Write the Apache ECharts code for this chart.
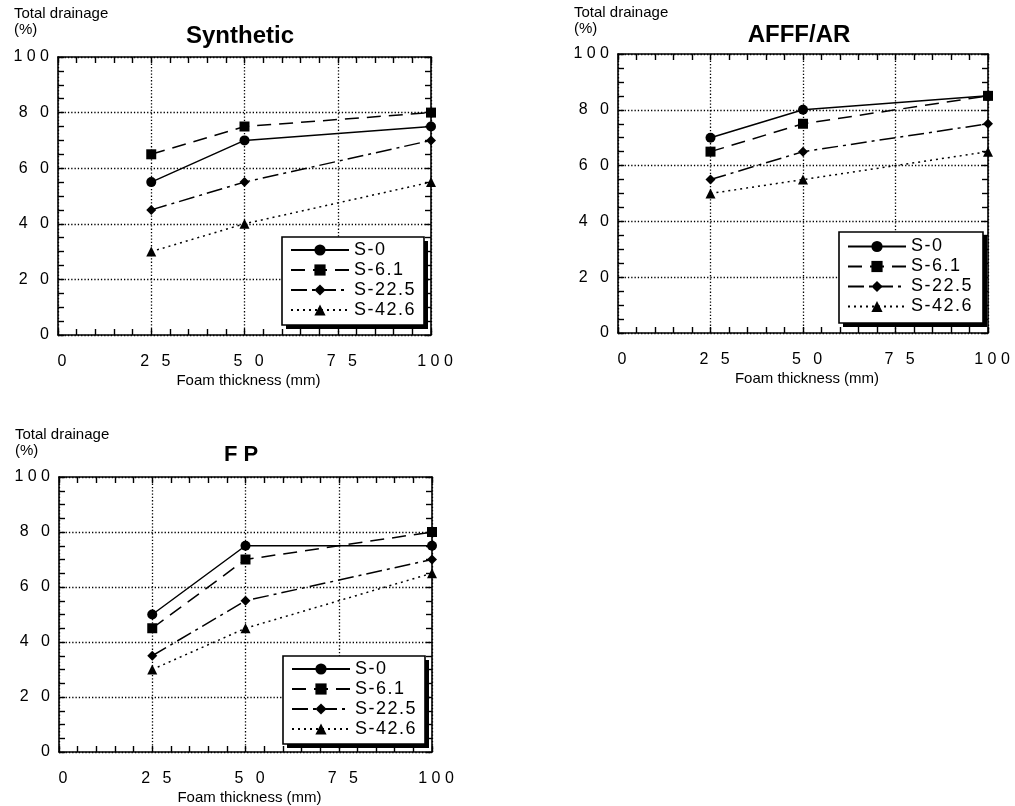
<!DOCTYPE html>
<html>
<head>
<meta charset="utf-8">
<script src="https://cdn.jsdelivr.net/npm/echarts@6/dist/echarts.min.js"></script>
<style>
  html, body { margin: 0; padding: 0; background: #fff; }
  #chart { width: 1015px; height: 806px; }
</style>
</head>
<body>
<div id="chart"></div>
<script>
// Foam thickness (mm) at which drainage was measured
const thickness = [25, 50, 100];

// Series names (legend)
const seriesNames = ['S-0', 'S-6.1', 'S-22.5', 'S-42.6'];

// Total drainage (%) — Synthetic
const syntheticS0   = [55, 70, 75];
const syntheticS61  = [65, 75, 80];
const syntheticS225 = [45, 55, 70];
const syntheticS426 = [30, 40, 55];

// Total drainage (%) — AFFF/AR
const afffS0   = [70, 80, 85];
const afffS61  = [65, 75, 85];
const afffS225 = [55, 65, 75];
const afffS426 = [50, 55, 65];

// Total drainage (%) — FP
const fpS0   = [50, 75, 75];
const fpS61  = [45, 70, 80];
const fpS225 = [35, 55, 70];
const fpS426 = [30, 45, 65];

// Axis tick values and their printed labels
const xTickValues = [0, 25, 50, 75, 100];
const xTickLabels = ['0', '2\u2002 5', '5\u2002 0', '7\u2002 5', '1 0 0'];
const yTickValues = [0, 20, 40, 60, 80, 100];
const yTickLabels = ['0', '2\u2002 0', '4\u2002 0', '6\u2002 0', '8\u2002 0', '1 0 0'];

const FONT = '"Liberation Sans", Arial, Helvetica, sans-serif';

const panels = [
  { title: 'Synthetic', titleSize: 24, data: [syntheticS0, syntheticS61, syntheticS225, syntheticS426],
    grid: { left: 58, top: 57, width: 373, height: 278 },
    titleX: 240, titleY: 36, noteX: 14, noteY: 6,
    legend: { left: 282, top: 237, width: 142, height: 88 } },
  { title: 'AFFF/AR', titleSize: 24, data: [afffS0, afffS61, afffS225, afffS426],
    grid: { left: 618, top: 54, width: 370, height: 279 },
    titleX: 799, titleY: 35, noteX: 574, noteY: 5,
    legend: { left: 839, top: 232, width: 144, height: 91 } },
  { title: 'F P', titleSize: 22, data: [fpS0, fpS61, fpS225, fpS426],
    grid: { left: 59, top: 477, width: 373, height: 278 },
    titleX: 241, titleY: 455, noteX: 15, noteY: 427,
    legend: { left: 283, top: 656, width: 142, height: 88 } }
];

// Line / marker style of each series
const styles = [
  { symbol: 'circle',   symbolSize: 10, type: 'solid' },
  { symbol: 'rect',     symbolSize: 10, type: [14, 8] },
  { symbol: 'diamond',  symbolSize: 10, type: [16, 5, 3, 5] },
  { symbol: 'triangle', symbolSize: 10, type: [2, 4] }
];

const axisLine = { show: true, onZero: false, lineStyle: { color: '#000', width: 1.6 } };
const gridDots = { show: true, lineStyle: { color: '#000', width: 1.3, type: [1.3, 2] } };
const tickStyle = { color: '#000', width: 1.4 };

const grids = [], xAxes = [], yAxes = [], series = [], legends = [], graphics = [];

panels.forEach((p, gi) => {
  grids.push(Object.assign({ containLabel: false }, p.grid));

  // bottom axis with labels and grid lines
  xAxes.push({
    type: 'value', gridIndex: gi, min: 0, max: 100, interval: 25,
    axisLine,
    axisTick: { show: true, inside: true, length: 6, lineStyle: tickStyle },
    minorTick: { show: true, splitNumber: 5, length: 6, lineStyle: tickStyle },
    splitLine: gridDots,
    axisLabel: {
      margin: 19, color: '#000', fontSize: 16, fontFamily: FONT, padding: [0, 0, 0, 8],
      formatter: v => xTickLabels[xTickValues.indexOf(v)]
    },
    name: 'Foam thickness (mm)', nameLocation: 'middle', nameGap: 38,
    nameTextStyle: { color: '#000', fontSize: 15, fontFamily: FONT, padding: [0, 0, 0, 8] }
  });
  // top frame edge with ticks
  xAxes.push({
    type: 'value', gridIndex: gi, position: 'top', min: 0, max: 100, interval: 25,
    axisLine,
    axisTick: { show: true, inside: true, length: 6, lineStyle: tickStyle },
    minorTick: { show: true, splitNumber: 5, length: 6, lineStyle: tickStyle },
    splitLine: { show: false }, axisLabel: { show: false }
  });

  // left axis with labels and grid lines
  yAxes.push({
    type: 'value', gridIndex: gi, min: 0, max: 100, interval: 20,
    axisLine,
    axisTick: { show: true, inside: true, length: 6, lineStyle: tickStyle },
    minorTick: { show: true, splitNumber: 4, length: 6, lineStyle: tickStyle },
    splitLine: gridDots,
    axisLabel: {
      margin: 9, color: '#000', fontSize: 16, fontFamily: FONT,
      formatter: v => yTickLabels[yTickValues.indexOf(v)]
    }
  });
  // right frame edge with ticks
  yAxes.push({
    type: 'value', gridIndex: gi, position: 'right', min: 0, max: 100, interval: 20,
    axisLine,
    axisTick: { show: true, inside: true, length: 6, lineStyle: tickStyle },
    minorTick: { show: true, splitNumber: 4, length: 6, lineStyle: tickStyle },
    splitLine: { show: false }, axisLabel: { show: false }
  });

  p.data.forEach((vals, si) => {
    const st = styles[si];
    series.push({
      type: 'line', name: seriesNames[si],
      xAxisIndex: gi * 2, yAxisIndex: gi * 2,
      data: thickness.map((x, i) => [x, vals[i]]),
      symbol: st.symbol, symbolSize: st.symbolSize,
      showAllSymbol: true, clip: false,
      lineStyle: { color: '#000', width: 1.5, type: st.type },
      itemStyle: { color: '#000', borderColor: '#000', borderWidth: 0 },
      emphasis: { disabled: true },
      z: 3
    });
  });

  const lg = p.legend;
  legends.push({
    orient: 'vertical', left: lg.left, top: lg.top + (lg.height - 88) / 2,
    data: seriesNames,
    itemWidth: 58, itemHeight: 14, itemGap: 2,
    padding: [4, 6, 5, 8],
    backgroundColor: 'transparent', borderWidth: 0,
    selectedMode: false,
    textStyle: { color: '#000', fontSize: 18, fontFamily: FONT, lineHeight: 18 },
    formatter: n => n.split('').join('\u200A'),
    z: 10
  });

  // legend frame with its drop shadow
  graphics.push({
    type: 'rect', z: 5, silent: true,
    shape: { x: lg.left + 4, y: lg.top + 4, width: lg.width, height: lg.height },
    style: { fill: '#000', stroke: null }
  });
  graphics.push({
    type: 'rect', z: 6, silent: true,
    shape: { x: lg.left, y: lg.top, width: lg.width, height: lg.height },
    style: { fill: '#fff', stroke: '#000', lineWidth: 1.6 }
  });

  graphics.push({
    type: 'text', z: 6,
    style: {
      text: p.title, x: p.titleX, y: p.titleY, align: 'center', verticalAlign: 'middle',
      fill: '#000', font: 'bold ' + p.titleSize + 'px ' + FONT
    }
  });
  graphics.push({
    type: 'text', z: 6,
    style: {
      text: 'Total drainage\n(%)', x: p.noteX, y: p.noteY, align: 'left', verticalAlign: 'top',
      fill: '#000', font: '15px ' + FONT, lineHeight: 16
    }
  });
});

const chart = echarts.init(document.getElementById('chart'), null, { renderer: 'canvas' });
chart.setOption({
  backgroundColor: '#fff',
  animation: false,
  grid: grids,
  xAxis: xAxes,
  yAxis: yAxes,
  legend: legends,
  series: series,
  graphic: { elements: graphics }
});
</script>
</body>
</html>
